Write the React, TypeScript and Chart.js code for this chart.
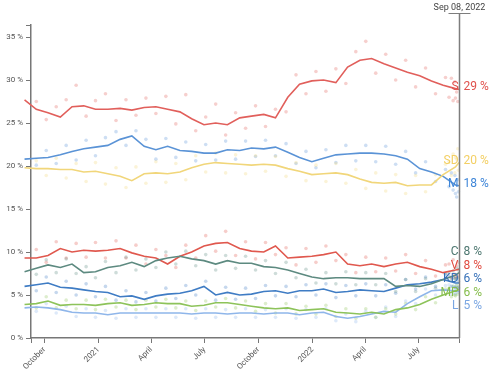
import React, { useEffect, useRef } from 'react';
import { Chart, registerables } from 'chart.js';
Chart.register(...registerables);

// ---- data ----
const parties = ['S', 'SD', 'M', 'C', 'V', 'KD', 'MP', 'L'];

const lineDates = [
  '2020-07-17', '2020-08-07', '2020-08-28', '2020-09-17', '2020-10-07', '2020-10-28', '2020-11-17', '2020-12-07',
  '2020-12-27', '2021-01-17', '2021-02-07', '2021-02-27', '2021-03-20', '2021-04-09', '2021-04-29', '2021-05-20',
  '2021-06-09', '2021-06-30', '2021-07-20', '2021-08-09', '2021-08-30', '2021-09-19', '2021-10-10', '2021-10-30',
  '2021-11-20', '2021-12-10', '2021-12-31', '2022-01-20', '2022-02-10', '2022-03-02', '2022-03-23', '2022-04-12',
  '2022-05-03', '2022-05-23', '2022-06-12', '2022-07-03', '2022-07-23', '2022-08-12', '2022-09-02', '2022-09-08',
];

const lineS = [28.0, 27.8, 27.7, 26.6, 26.2, 25.7, 26.9, 27.0, 26.6, 26.6, 26.7, 26.5, 26.8, 26.9, 26.6, 26.3, 25.5, 24.8, 25.0, 24.8, 25.6, 25.8, 26.0, 25.6, 28.0, 29.5, 29.9, 30.0, 29.7, 31.5, 32.3, 32.5, 31.9, 31.4, 30.9, 30.5, 29.9, 29.4, 29.0, 28.9];
const lineSD = [19.7, 19.7, 19.8, 19.7, 19.7, 19.6, 19.6, 19.3, 19.4, 19.1, 18.8, 18.3, 19.1, 19.2, 19.1, 19.3, 19.8, 20.2, 20.4, 20.3, 20.2, 20.1, 20.2, 20.1, 19.7, 19.4, 19.0, 19.1, 19.2, 19.0, 18.5, 18.1, 18.0, 18.1, 17.7, 17.8, 17.8, 19.0, 19.9, 20.4];
const lineM = [21.1, 21.2, 20.8, 20.9, 21.0, 21.3, 21.7, 22.0, 22.2, 22.4, 23.1, 23.5, 22.3, 21.9, 22.3, 21.8, 21.7, 21.5, 21.5, 21.9, 21.8, 22.1, 22.0, 22.2, 21.6, 21.0, 20.5, 20.9, 21.3, 21.4, 21.5, 21.5, 21.4, 21.2, 20.8, 19.7, 19.3, 18.8, 17.8, 17.7];
const lineC = [8.4, 7.8, 7.7, 8.1, 8.5, 8.2, 8.6, 7.6, 7.7, 8.2, 8.4, 8.8, 8.3, 9.0, 9.3, 9.5, 9.2, 9.0, 8.6, 9.0, 8.7, 8.7, 8.3, 8.2, 7.9, 7.5, 7.1, 6.9, 7.0, 7.0, 6.9, 6.9, 6.9, 6.0, 6.1, 6.0, 6.3, 6.8, 7.3, 7.6];
const lineV = [8.5, 8.8, 9.3, 9.3, 9.6, 10.4, 10.0, 10.2, 10.1, 10.2, 10.4, 9.9, 9.5, 9.3, 8.6, 9.5, 10.0, 10.7, 11.0, 11.1, 10.4, 10.1, 10.0, 10.7, 9.3, 9.4, 9.5, 9.7, 10.0, 8.6, 8.4, 8.6, 8.3, 8.6, 8.8, 8.3, 8.0, 7.6, 7.9, 8.0];
const lineKD = [5.8, 5.9, 6.0, 6.2, 6.4, 5.9, 5.8, 5.6, 5.4, 5.3, 4.8, 4.9, 4.5, 4.9, 5.1, 5.2, 5.5, 6.0, 5.0, 5.3, 5.0, 5.1, 5.4, 5.5, 5.2, 5.5, 5.5, 5.7, 5.3, 5.4, 5.6, 5.5, 5.4, 5.8, 6.2, 6.3, 6.5, 6.8, 6.4, 6.4];
const lineMP = [3.6, 3.7, 3.9, 4.0, 4.3, 3.8, 3.9, 3.9, 3.8, 4.0, 4.1, 3.8, 3.9, 4.1, 4.0, 4.0, 3.7, 3.8, 4.1, 4.1, 3.9, 3.7, 3.5, 3.4, 3.5, 3.2, 3.3, 3.4, 3.0, 2.9, 2.8, 3.0, 2.8, 3.3, 3.5, 3.9, 4.5, 5.0, 5.5, 5.6];
const lineL = [3.4, 3.5, 3.5, 3.6, 3.5, 3.3, 3.0, 2.9, 2.9, 2.7, 2.9, 2.9, 2.9, 2.9, 2.9, 2.9, 2.8, 2.9, 2.9, 2.8, 2.9, 2.9, 2.8, 2.9, 2.9, 2.7, 2.9, 3.0, 2.5, 2.3, 2.5, 2.8, 3.1, 3.0, 4.0, 4.8, 5.5, 5.6, 5.5, 5.4];

const pollDates = [
  '2020-07-27', '2020-08-13', '2020-08-31', '2020-09-17', '2020-10-04', '2020-10-21', '2020-11-07', '2020-11-24',
  '2020-12-11', '2020-12-27', '2021-01-13', '2021-01-31', '2021-02-17', '2021-03-06', '2021-03-23', '2021-04-09',
  '2021-04-26', '2021-05-13', '2021-05-30', '2021-06-16', '2021-07-03', '2021-07-20', '2021-08-06', '2021-08-23',
  '2021-09-09', '2021-09-26', '2021-10-13', '2021-10-30', '2021-11-17', '2021-12-04', '2021-12-21', '2022-01-07',
  '2022-01-24', '2022-02-10', '2022-02-27', '2022-03-16', '2022-04-02', '2022-04-19', '2022-05-06', '2022-05-23',
  '2022-06-09', '2022-06-26', '2022-07-13', '2022-07-30', '2022-08-16', '2022-09-02',
  '2022-08-22', '2022-08-26', '2022-08-29', '2022-09-01', '2022-09-04', '2022-09-06', '2022-09-07',
];

const pollS = [28.6, 27.0, 28.3, 27.5, 25.4, 26.9, 27.7, 29.4, 25.8, 27.6, 28.4, 25.3, 27.7, 25.9, 27.9, 26.1, 28.1, 24.9, 28.3, 24.1, 25.7, 27.2, 23.6, 26.2, 24.4, 27.0, 24.6, 26.6, 26.3, 30.6, 28.4, 31.0, 28.7, 31.3, 29.6, 33.3, 34.5, 30.8, 33.0, 30.0, 32.3, 29.2, 31.4, 28.4, 30.3, 27.9, 28.0, 30.2, 27.6, 29.8, 28.6, 27.5, 29.1];
const pollSD = [18.5, 20.8, 19.0, 20.6, 18.9, 20.9, 18.6, 20.3, 18.2, 20.4, 17.9, 19.8, 17.5, 19.9, 18.0, 20.5, 18.1, 20.3, 18.4, 21.2, 19.3, 21.5, 19.2, 21.3, 19.1, 21.2, 19.4, 21.1, 18.8, 20.4, 18.3, 20.1, 18.2, 20.3, 18.0, 19.6, 17.4, 19.2, 17.1, 19.0, 16.8, 18.9, 17.0, 19.0, 20.2, 21.0, 20.5, 18.9, 21.4, 19.2, 20.8, 22.0, 19.5];
const pollM = [21.9, 20.3, 21.5, 20.1, 21.8, 20.3, 22.4, 20.7, 23.0, 21.2, 23.3, 24.0, 22.4, 24.1, 23.1, 20.8, 23.2, 21.0, 22.8, 20.6, 22.5, 20.7, 22.9, 20.8, 22.9, 21.1, 23.0, 21.2, 22.6, 20.3, 21.7, 19.8, 21.9, 20.4, 22.4, 20.6, 22.4, 20.5, 22.3, 20.2, 21.7, 19.2, 20.5, 18.2, 19.6, 16.8, 17.6, 19.2, 17.2, 18.9, 16.4, 18.4, 17.0];
const pollC = [8.9, 7.0, 8.5, 7.4, 9.1, 7.6, 9.2, 7.5, 8.3, 7.0, 8.9, 7.6, 9.4, 7.9, 9.2, 8.2, 10.0, 8.6, 10.1, 8.4, 9.7, 7.9, 9.6, 8.1, 9.5, 7.9, 9.0, 7.5, 8.8, 7.0, 8.0, 6.4, 7.6, 6.3, 7.7, 6.2, 7.6, 6.2, 7.5, 5.4, 6.8, 5.4, 6.9, 5.8, 7.5, 6.9, 7.6, 6.8, 7.8, 6.9, 8.1, 7.0, 7.9];
const pollV = [7.8, 9.9, 8.6, 10.3, 8.8, 11.2, 9.3, 11.0, 9.4, 11.1, 9.3, 11.3, 9.3, 10.8, 8.6, 10.3, 9.6, 8.2, 10.8, 9.3, 11.9, 10.1, 12.4, 9.6, 11.2, 9.2, 11.1, 9.7, 10.5, 8.5, 10.4, 8.8, 10.7, 9.0, 9.7, 7.6, 9.4, 7.7, 9.3, 7.8, 9.7, 7.5, 9.0, 7.2, 8.5, 7.1, 8.6, 7.0, 9.1, 7.4, 8.4, 7.2, 8.8];
const pollKD = [6.6, 5.2, 6.8, 5.5, 7.1, 5.3, 6.6, 5.0, 6.3, 4.8, 6.0, 4.4, 5.5, 4.2, 5.3, 4.3, 5.8, 4.6, 6.1, 5.0, 6.6, 4.4, 5.9, 4.5, 5.8, 4.6, 6.1, 4.9, 6.0, 4.8, 6.2, 5.0, 6.3, 4.7, 6.1, 4.9, 6.3, 4.9, 6.2, 5.2, 6.8, 5.7, 7.1, 6.0, 7.4, 5.8, 7.2, 6.0, 7.0, 5.9, 6.9, 5.8, 6.6];
const pollMP = [4.2, 3.3, 4.4, 3.5, 4.8, 3.5, 4.4, 3.4, 4.4, 3.3, 4.5, 3.6, 4.4, 3.3, 4.4, 3.6, 4.5, 3.5, 4.3, 3.2, 4.3, 3.6, 4.6, 3.5, 4.3, 3.1, 4.0, 2.9, 4.0, 2.8, 3.7, 2.8, 3.8, 2.5, 3.4, 2.3, 3.4, 2.4, 3.4, 2.8, 4.0, 3.3, 4.8, 4.1, 5.7, 4.9, 5.8, 4.8, 6.0, 5.0, 6.1, 5.1, 5.9];
const pollL = [3.9, 3.0, 4.0, 3.1, 4.0, 2.9, 3.7, 2.5, 3.4, 2.4, 3.2, 2.3, 3.4, 2.4, 3.4, 2.4, 3.4, 2.4, 3.4, 2.3, 3.4, 2.4, 3.3, 2.4, 3.4, 2.4, 3.3, 2.4, 3.4, 2.3, 3.3, 2.4, 3.4, 2.0, 2.8, 1.9, 3.1, 2.4, 3.6, 2.5, 4.3, 4.0, 5.7, 5.0, 6.1, 5.1, 6.2, 5.1, 6.0, 5.2, 6.1, 5.3, 5.8];

const axisStart = '2020-09-08';
const axisEnd = '2022-09-08';
const endLabel = 'Sep 08, 2022';
const xTickDates = ['2020-10-01', '2021-01-01', '2021-04-01', '2021-07-01', '2021-10-01', '2022-01-01', '2022-04-01', '2022-07-01'];
const xTickLabels = ['October', '2021', 'April', 'July', 'October', '2022', 'April', 'July'];
const yTicks = [0, 5, 10, 15, 20, 25, 30, 35];
const yMax = 36.4;

// ---- styles ----
const lineColors = ['#e15f5b', '#f1d67a', '#5a93d6', '#5d8a80', '#e0584e', '#3f7cc4', '#8dc35a', '#8fb6ea'];
const labelColors = ['#e0524d', '#f3cf63', '#3f86d8', '#4d7770', '#e04a3f', '#3570b8', '#86bd4c', '#7aa6e2'];

const lineSeries = [lineS, lineSD, lineM, lineC, lineV, lineKD, lineMP, lineL];
const pollSeries = [pollS, pollSD, pollM, pollC, pollV, pollKD, pollMP, pollL];

function hexA(hex: string, a: number) {
  const n = parseInt(hex.slice(1), 16);
  return `rgba(${(n >> 16) & 255},${(n >> 8) & 255},${n & 255},${a})`;
}

const FONT = 'Roboto, "Noto Sans", Arial, sans-serif';

const endPlugin = {
  id: 'endLabels',
  afterDatasetsDraw(chart: any) {
    const { ctx, chartArea, scales } = chart;
    const xs = scales.x;
    const ys = scales.y;
    const ex = Math.round(xs.getPixelForValue(Date.parse(axisEnd))) + 0.5;
    ctx.save();
    // party labels with collision avoidance
    const gap = 13.5;
    const items = parties.map((p, i) => {
      const arr = lineSeries[i];
      const v = arr[arr.length - 1];
      return { p, i, v, y: ys.getPixelForValue(v) - 2 };
    });
    let groups: any[] = items.map((it) => ({ items: [it], top: it.y }));
    let merged = true;
    while (merged) {
      merged = false;
      for (let g = 0; g < groups.length - 1; g++) {
        const a = groups[g];
        const b = groups[g + 1];
        if (a.top + a.items.length * gap > b.top) {
          const its = a.items.concat(b.items);
          const top = its.reduce((s: number, it: any, k: number) => s + it.y - k * gap, 0) / its.length;
          groups.splice(g, 2, { items: its, top });
          merged = true;
          break;
        }
      }
    }
    ctx.font = `12px ${FONT}`;
    ctx.textBaseline = 'middle';
    groups.forEach((g) => {
      g.items.forEach((it: any, k: number) => {
        const y = g.top + k * gap;
        ctx.fillStyle = labelColors[it.i];
        ctx.textAlign = 'right';
        ctx.fillText(it.p, ex - 1, y);
        ctx.textAlign = 'left';
        ctx.fillText(`${Math.round(it.v)} %`, ex + 4, y);
      });
    });
    // end marker
    ctx.strokeStyle = '#7d7d7d';
    ctx.lineWidth = 1.5;
    const topY = chartArea.top - 12;
    ctx.beginPath();
    ctx.moveTo(ex, topY);
    ctx.lineTo(ex, chartArea.bottom);
    ctx.stroke();
    ctx.lineWidth = 1;
    ctx.beginPath();
    ctx.moveTo(ex - 11, topY + 0.5);
    ctx.lineTo(ex + 11, topY + 0.5);
    ctx.stroke();
    ctx.fillStyle = '#444';
    ctx.font = `9px ${FONT}`;
    ctx.textAlign = 'center';
    ctx.textBaseline = 'alphabetic';
    ctx.fillText(endLabel, ex, topY - 3);
    ctx.restore();
  },
};

export default function App() {
  const ref = useRef<HTMLCanvasElement | null>(null);
  useEffect(() => {
    if (!ref.current) return;
    Chart.defaults.font.family = FONT;
    const xStart = Date.parse(axisStart);
    const xEnd = Date.parse(axisEnd);
    const datasets: any[] = [];
    parties.forEach((p, i) => {
      datasets.push({
        type: 'line',
        label: p,
        data: lineDates.map((d, k) => ({ x: Date.parse(d), y: lineSeries[i][k] })),
        borderColor: lineColors[i],
        backgroundColor: lineColors[i],
        borderWidth: 1.6,
        pointRadius: 0,
        tension: 0,
        clip: false,
        order: 1,
      });
    });
    parties.forEach((p, i) => {
      datasets.push({
        type: 'scatter',
        label: p + ' polls',
        data: pollDates.map((d, k) => ({ x: Date.parse(d), y: pollSeries[i][k] })),
        backgroundColor: hexA(lineColors[i], 0.3),
        borderWidth: 0,
        pointRadius: 1.8,
        clip: false,
        order: 10,
      });
    });
    const xTickVals = [xStart, ...xTickDates.map((d) => Date.parse(d)), xEnd];
    const xLabels = ['', ...xTickLabels, ''];
    const chart = new Chart(ref.current, {
      type: 'line',
      data: { datasets },
      options: {
        animation: false,
        responsive: false,
        devicePixelRatio: 1,
        layout: { padding: { top: 25, right: 41, left: 0, bottom: 0 } },
        plugins: { legend: { display: false }, tooltip: { enabled: false } },
        scales: {
          x: {
            type: 'linear',
            min: xStart,
            max: xEnd,
            afterBuildTicks: (s: any) => {
              s.ticks = xTickVals.map((v) => ({ value: v }));
            },
            afterFit: (s: any) => {
              s.height = 40;
            },
            ticks: {
              autoSkip: false,
              maxRotation: 45,
              minRotation: 45,
              padding: 2,
              color: '#555',
              font: { size: 8, family: FONT },
              callback: (_v: any, idx: number) => xLabels[idx],
            },
            grid: { drawOnChartArea: false, drawTicks: true, tickLength: 5, color: '#777', lineWidth: 1 },
            border: { display: true, color: '#777', width: 1.5 },
          },
          y: {
            type: 'linear',
            min: 0,
            max: yMax,
            afterBuildTicks: (s: any) => {
              s.ticks = [...yTicks, yMax].map((v) => ({ value: v }));
            },
            afterFit: (s: any) => {
              s.width = 31;
            },
            ticks: {
              padding: 3,
              color: '#555',
              font: { size: 8, family: FONT },
              callback: (v: any) => (yTicks.includes(v) ? `${v} %` : ''),
            },
            grid: { drawOnChartArea: false, drawTicks: true, tickLength: 5, color: '#777', lineWidth: 1 },
            border: { display: true, color: '#777', width: 1.5 },
          },
        },
      },
      plugins: [endPlugin],
    });
    return () => chart.destroy();
  }, []);
  return (
    <div style={{ position: 'fixed', left: 0, top: 0, width: 500, height: 378, background: '#fff' }}>
      <canvas ref={ref} width={500} height={378} style={{ display: 'block', width: 500, height: 378 }} />
    </div>
  );
}
